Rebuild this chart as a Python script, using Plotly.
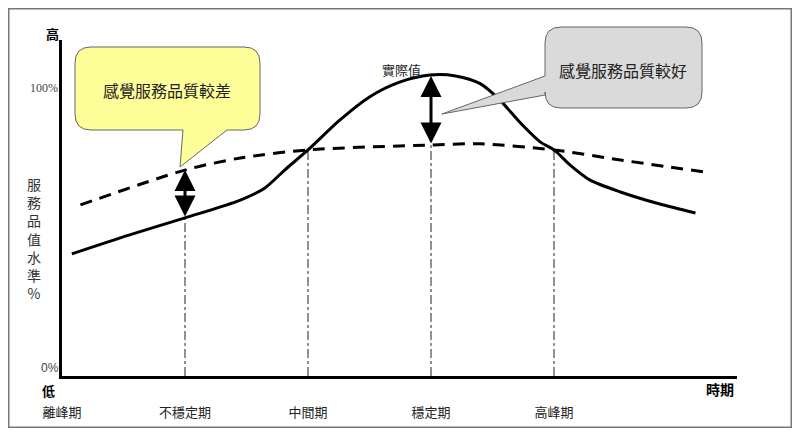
import plotly.graph_objects as go

# data (x: period index, y: service quality level %)
periods = ['離峰期', '不穩定期', '中間期', '穩定期', '高峰期']
period_pos = [0, 1, 2, 3, 4]

actual_x = [0.08, 0.55, 1.0, 1.45, 1.65, 1.81, 2.0, 2.26, 2.5, 2.75, 2.99,
            3.2, 3.4, 3.56, 3.72, 3.89, 4.0, 4.13, 4.29, 4.54, 4.86, 5.15]
actual_y = [42.4, 49.0, 54.9, 61.1, 65.3, 71.5, 78.5, 88.9, 96.9, 102.1, 104.5,
            104.2, 101.5, 95.8, 88.2, 81.2, 78.5, 73.3, 68.1, 63.9, 59.7, 56.6]

expected_x = [0.15, 1.0, 1.45, 2.0, 2.99, 3.4, 4.0, 4.54, 5.23]
expected_y = [59.4, 71.5, 75.7, 78.5, 80.2, 80.6, 78.5, 75.0, 70.8]

guide_x = [1, 2, 3, 4]
guide_top = [54.9, 78.5, 80.2, 78.5]

gap_x = [1, 3]
gap_low = [54.9, 80.2]
gap_high = [71.5, 104.2]

y_ticks = [0, 100]
y_ticktext = ['0%', '100%']

CJK = 'Noto Sans CJK TC'

# page body keeps an 8px margin, so the figure is shrunk by it and
# everything below is expressed in screen pixels of the reference
OFF = 8
W, H = 800 - 2 * OFF, 436 - 2 * OFF
L, R, T, B = 62, 737, 40, 376


def px(x):
    return (x - L) / (R - L)


def py(y):
    return (B - y) / (B - T)


def path(cmds):
    out = []
    for c in cmds:
        if c == 'Z':
            out.append('Z')
            continue
        op, pts = c[0], c[1:]
        out.append(op + ' ' + ' '.join(f'{px(pts[i]):.5f},{py(pts[i+1]):.5f}'
                                       for i in range(0, len(pts), 2)))
    return ' '.join(out)


fig = go.Figure()

for gx, gt in zip(guide_x, guide_top):
    fig.add_trace(go.Scatter(x=[gx, gx], y=[0, gt], mode='lines',
                             line=dict(color='#222', width=1, dash='dashdot')))

fig.add_trace(go.Scatter(x=expected_x, y=expected_y, mode='lines',
                         line=dict(color='black', width=3, dash='12px,8px', shape='spline', smoothing=0.8)))
fig.add_trace(go.Scatter(x=actual_x, y=actual_y, mode='lines',
                         line=dict(color='black', width=3, shape='spline', smoothing=0.8)))

for gx, lo, hi in zip(gap_x, gap_low, gap_high):
    fig.add_annotation(x=gx, y=hi, ax=gx, ay=lo, axref='x', ayref='y', text='',
                       showarrow=True, arrowside='end+start', arrowhead=2,
                       arrowsize=1.4, arrowwidth=3, arrowcolor='black',
                       standoff=0, startstandoff=0)

# callouts
r = 16
yellow = path([
    ('M', 75 + r, 47), ('L', 260 - r, 47), ('Q', 260, 47, 260, 47 + r),
    ('L', 260, 130 - r), ('Q', 260, 130, 260 - r, 130),
    ('L', 227, 130), ('L', 180, 167), ('L', 183, 130),
    ('L', 75 + r, 130), ('Q', 75, 130, 75, 130 - r),
    ('L', 75, 47 + r), ('Q', 75, 47, 75 + r, 47), 'Z'])
grey = path([
    ('M', 545 + r, 27), ('L', 702 - r, 27), ('Q', 702, 27, 702, 27 + r),
    ('L', 702, 108 - r), ('Q', 702, 108, 702 - r, 108),
    ('L', 545 + r, 108), ('Q', 545, 108, 545, 108 - r),
    ('L', 545, 95), ('L', 442, 114), ('L', 545, 76),
    ('L', 545, 27 + r), ('Q', 545, 27, 545 + r, 27), 'Z'])

fig.add_shape(type='path', path=yellow, xref='paper', yref='paper',
              fillcolor='#FFFF99', line=dict(color='#666', width=1))
fig.add_shape(type='path', path=grey, xref='paper', yref='paper',
              fillcolor='#DADADA', line=dict(color='#666', width=1))
# outer frame (as close to the page edge as the body margin allows)
fig.add_shape(type='rect', xref='paper', yref='paper',
              x0=px(OFF + 0.75), x1=px(800 - OFF - 0.75),
              y0=py(OFF + 0.75), y1=py(436 - OFF - 0.75),
              line=dict(color='#777', width=1.5))


def label(text, x, y, size=13, bold=False, color='#222', family=CJK, anchor='center'):
    if bold:
        text = f'<b>{text}</b>'
    fig.add_annotation(x=px(x), y=py(y), xref='paper', yref='paper', text=text,
                       showarrow=False, xanchor=anchor, yanchor='middle',
                       font=dict(family=family, size=size, color=color))


label('感覺服務品質較差', 167, 90, size=16)
label('感覺服務品質較好', 623, 70, size=16)
label('實際值', 402, 69, size=13)
label('高', 52, 33, size=13, bold=True, color='black')
label('低', 48, 390, size=13, bold=True, color='black')
label('時期', 720, 389, size=14, bold=True, color='black')
label('服<br>務<br>品<br>值<br>水<br>準<br>%', 34, 238, size=14, color='#333')
label(y_ticktext[1], 60, 88, size=12, color='#444', family='Liberation Serif', anchor='right')
label(y_ticktext[0], 61, 368, size=12, color='#444', family='Liberation Sans', anchor='right')

fig.update_layout(
    width=W, height=H,
    margin=dict(l=L - OFF, r=W - (R - OFF), t=T - OFF, b=H - (B - OFF)),
    paper_bgcolor='white', plot_bgcolor='white',
    showlegend=False,
    xaxis=dict(range=[0, (R - L) / 123], tickvals=period_pos, ticktext=periods,
               showgrid=False, zeroline=False, showline=True, linewidth=3,
               linecolor='black', ticks='', ticklabelstandoff=22, automargin=False,
               tickfont=dict(family=CJK, size=13, color='#222')),
    yaxis=dict(range=[0, (B - T) / 2.88], tickvals=y_ticks, showticklabels=False,
               showgrid=False, zeroline=False, showline=True, linewidth=3,
               linecolor='black', ticks='', automargin=False),
)

fig.write_html('out.html')
